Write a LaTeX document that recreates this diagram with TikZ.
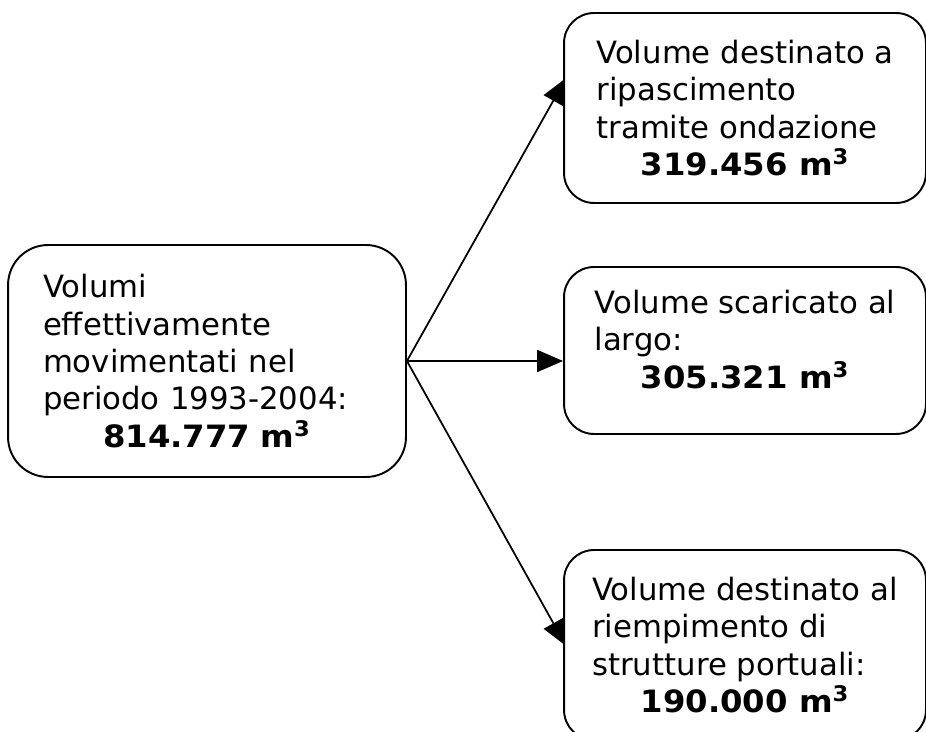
\documentclass[tikz,border=0pt]{standalone}
\usepackage{fontspec}
\setmainfont{DejaVu Sans}
\newfontfamily\numfont{DejaVu Sans Bold}[FakeStretch=1.05]
\usetikzlibrary{arrows.meta,calc,backgrounds}

\newcommand{\vol}[1]{\hspace*{\fill}{\numfont #1 m\textsuperscript{3}}\hspace*{\fill}\mbox{}}

\tikzset{
  volbox/.style={draw, fill=white, line width=1.1pt, rounded corners=0.6cm,
    align=left, inner sep=0pt, minimum width=7.24cm,
    font=\fontsize{17.5}{21.3}\selectfont},
  link/.style={-{Triangle[length=0.52cm,width=0.44cm]}, line width=1pt}
}

\begin{document}
\begin{tikzpicture}[x=0.02cm,y=-0.02cm]
  \useasboundingbox (0,0) rectangle (926,732);
  % origine dei volumi
  \node[volbox, rounded corners=0.8cm, minimum width=7.96cm, minimum height=4.64cm,
    text width=6.56cm] (src) at (207,361)
    {Volumi\\effettivamente\\movimentati nel\\periodo 1993-2004:\\\vol{814.777}};
  % destinazioni
  \node[volbox, minimum height=3.8cm] (ripasc) at (745,108)
    {Volume destinato a\\ripascimento\\tramite ondazione\\\vol{319.456}};
  \node[volbox, minimum height=3.34cm, text depth=0.46cm] (largo) at (745,350.5)
    {Volume scaricato al\\largo:\\\vol{305.321}};
  \node[volbox, minimum height=3.8cm] (porto) at (745,645)
    {Volume destinato al\\riempimento di\\strutture portuali:\\\vol{190.000}};
  \begin{scope}[on background layer]
    \draw[link] (src.east) -- ($(ripasc.west)+(3,-30)$);
    \draw[link] (src.east) -- (src.east -| largo.west);
    \draw[link] (src.east) -- ($(porto.west)+(3,1)$);
  \end{scope}
\end{tikzpicture}
\end{document}
